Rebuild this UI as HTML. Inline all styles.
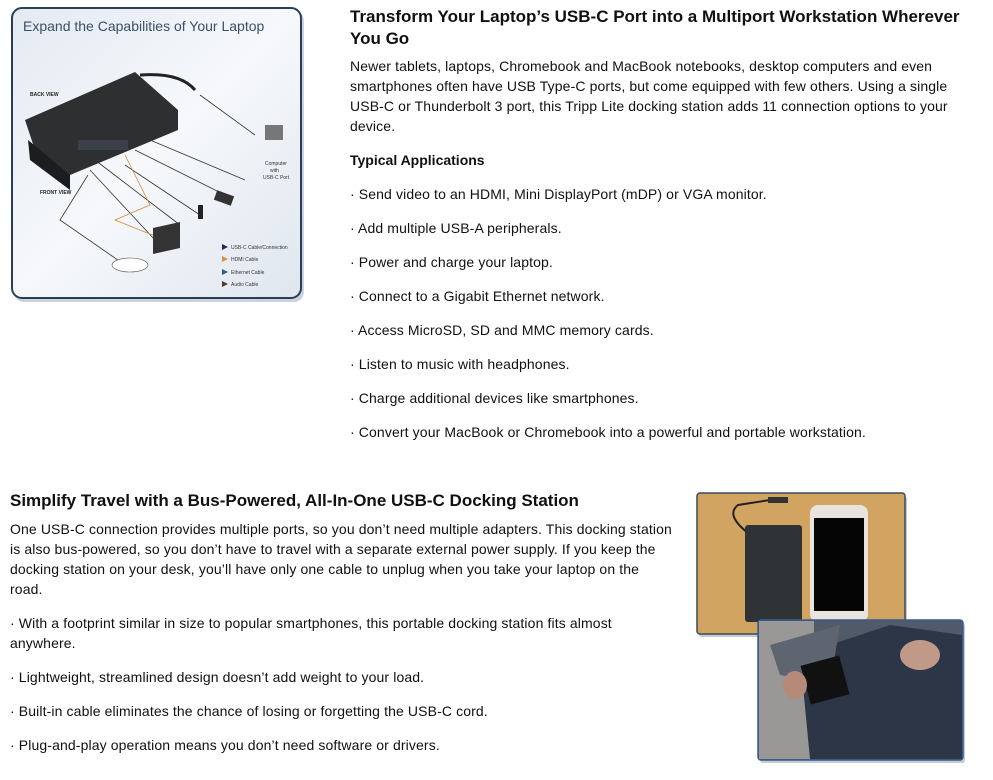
<!DOCTYPE html>
<html><head><meta charset="utf-8"><style>
body{margin:0;width:993px;height:780px;background:#fff;position:relative;overflow:hidden;font-family:"Liberation Sans",sans-serif;color:#0f1111}
.t{position:absolute;white-space:nowrap;font-size:14px;line-height:20px;letter-spacing:0.12px}
.h{position:absolute;white-space:nowrap;font-size:17px;font-weight:bold;line-height:22px}
.b{position:absolute;white-space:nowrap;font-size:14px;font-weight:bold;line-height:20px}
</style></head><body>
<svg style="position:absolute;left:0;top:0" width="320" height="310">
<defs><linearGradient id="g" x1="0" y1="0" x2="1" y2="1"><stop offset="0" stop-color="#e4eaf2"/><stop offset="0.5" stop-color="#f6f8fb"/><stop offset="1" stop-color="#dfe6ef"/></linearGradient></defs>
<rect x="14" y="11" width="290" height="291" rx="10" fill="#9aa8b8" opacity="0.5"/>
<rect x="12" y="8" width="289" height="290" rx="10" fill="url(#g)" stroke="#2b3e58" stroke-width="2"/>
<text x="23" y="31" font-size="14" fill="#3a4f6a" font-family="Liberation Sans">Expand the Capabilities of Your Laptop</text>
<text x="30" y="96" font-size="5" font-weight="bold" fill="#222">BACK VIEW</text>
<text x="40" y="194" font-size="5" font-weight="bold" fill="#222">FRONT VIEW</text>
<path d="M140 75 Q180 72 195 90" stroke="#222" stroke-width="3" fill="none"/>
<polygon points="25,120 135,72 178,110 178,130 70,175 35,150" fill="#2e2f31"/>
<polygon points="28,140 70,175 70,190 30,160" fill="#1c1d1f"/>
<rect x="78" y="140" width="50" height="10" fill="#3c4048"/>
<path d="M200 95 L255 135 M150 140 L245 180 M135 150 L225 195 M125 165 L200 215 M95 160 L180 225 M90 170 L155 240 M88 175 L60 220 L125 265" stroke="#333" stroke-width="0.8" fill="none"/>
<path d="M125 155 L150 205 L115 220 L165 240" stroke="#d08a3a" stroke-width="0.8" fill="none"/>
<rect x="265" y="125" width="18" height="15" fill="#777"/>
<rect x="215" y="193" width="18" height="10" fill="#333" transform="rotate(20 224 198)"/>
<rect x="198" y="205" width="5" height="14" fill="#222"/>
<polygon points="153,228 180,222 180,248 153,254" fill="#333"/>
<ellipse cx="130" cy="265" rx="18" ry="7" fill="#fff" stroke="#555" stroke-width="0.6"/>
<text x="265" y="165" font-size="5" fill="#333">Computer</text>
<text x="270" y="172" font-size="5" fill="#333">with</text>
<text x="263" y="179" font-size="5" fill="#333">USB-C Port</text>
<polygon points="222,244 228,247 222,250" fill="#1f2a55"/><text x="231" y="249" font-size="5" fill="#333">USB-C Cable/Connection</text>
<polygon points="222,256 228,259 222,262" fill="#e09040"/><text x="231" y="261" font-size="5" fill="#333">HDMI Cable</text>
<polygon points="222,269 228,272 222,275" fill="#2b5f8a"/><text x="231" y="274" font-size="5" fill="#333">Ethernet Cable</text>
<polygon points="222,281 228,284 222,287" fill="#4a3e30"/><text x="231" y="286" font-size="5" fill="#333">Audio Cable</text>
</svg>

<div class="h" style="left:350px;top:6px">Transform Your Laptop’s USB-C Port into a Multiport Workstation Wherever</div>
<div class="h" style="left:350px;top:28px">You Go</div>
<div class="t" style="left:350px;top:56px">Newer tablets, laptops, Chromebook and MacBook notebooks, desktop computers and even</div>
<div class="t" style="left:350px;top:76px">smartphones often have USB Type-C ports, but come equipped with few others. Using a single</div>
<div class="t" style="left:350px;top:96px">USB-C or Thunderbolt 3 port, this Tripp Lite docking station adds 11 connection options to your</div>
<div class="t" style="left:350px;top:116px">device.</div>
<div class="b" style="left:350px;top:150px">Typical Applications</div>
<div class="t" style="left:350px;top:184px">· Send video to an HDMI, Mini DisplayPort (mDP) or VGA monitor.</div>
<div class="t" style="left:350px;top:218px">· Add multiple USB-A peripherals.</div>
<div class="t" style="left:350px;top:252px">· Power and charge your laptop.</div>
<div class="t" style="left:350px;top:286px">· Connect to a Gigabit Ethernet network.</div>
<div class="t" style="left:350px;top:320px">· Access MicroSD, SD and MMC memory cards.</div>
<div class="t" style="left:350px;top:354px">· Listen to music with headphones.</div>
<div class="t" style="left:350px;top:388px">· Charge additional devices like smartphones.</div>
<div class="t" style="left:350px;top:422px">· Convert your MacBook or Chromebook into a powerful and portable workstation.</div>

<div class="h" style="left:10px;top:490px">Simplify Travel with a Bus-Powered, All-In-One USB-C Docking Station</div>
<div class="t" style="left:10px;top:519px">One USB-C connection provides multiple ports, so you don’t need multiple adapters. This docking station</div>
<div class="t" style="left:10px;top:539px">is also bus-powered, so you don’t have to travel with a separate external power supply. If you keep the</div>
<div class="t" style="left:10px;top:559px">docking station on your desk, you’ll have only one cable to unplug when you take your laptop on the</div>
<div class="t" style="left:10px;top:579px">road.</div>
<div class="t" style="left:10px;top:613px">· With a footprint similar in size to popular smartphones, this portable docking station fits almost</div>
<div class="t" style="left:10px;top:633px">anywhere.</div>
<div class="t" style="left:10px;top:667px">· Lightweight, streamlined design doesn’t add weight to your load.</div>
<div class="t" style="left:10px;top:701px">· Built-in cable eliminates the chance of losing or forgetting the USB-C cord.</div>
<div class="t" style="left:10px;top:735px">· Plug-and-play operation means you don’t need software or drivers.</div>

<svg style="position:absolute;left:690px;top:485px" width="290" height="290">
<rect x="9" y="11" width="208" height="141" rx="3" fill="#8a97a8" opacity="0.5"/>
<rect x="7" y="8" width="208" height="141" rx="3" fill="#d2a462" stroke="#3a4a60" stroke-width="1.5"/>
<path d="M58 48 Q35 30 48 20 L80 15" stroke="#222" stroke-width="2" fill="none"/>
<rect x="78" y="12" width="20" height="6" fill="#333"/>
<rect x="55" y="40" width="57" height="97" rx="3" fill="#2f3336"/>
<rect x="120" y="20" width="58" height="117" rx="8" fill="#e8e3dc"/>
<rect x="124" y="33" width="50" height="93" fill="#050505"/>
<rect x="70" y="138" width="205" height="140" rx="3" fill="#8a97a8" opacity="0.5"/>
<rect x="68" y="135" width="205" height="140" rx="3" fill="#505a68" stroke="#3a5a90" stroke-width="1.5"/>
<rect x="69" y="136" width="55" height="138" fill="#9a9896"/>
<path d="M110 170 L200 140 L272 150 L272 274 L120 274 Z" fill="#2c3646"/>
<path d="M80 160 L150 140 L140 200 L90 190 Z" fill="#5f6570"/>
<rect x="115" y="175" width="40" height="40" fill="#111" transform="rotate(-15 135 195)"/>
<ellipse cx="105" cy="200" rx="12" ry="14" fill="#b58a78"/>
<ellipse cx="230" cy="170" rx="20" ry="15" fill="#c09a88"/>
</svg>
</body></html>
